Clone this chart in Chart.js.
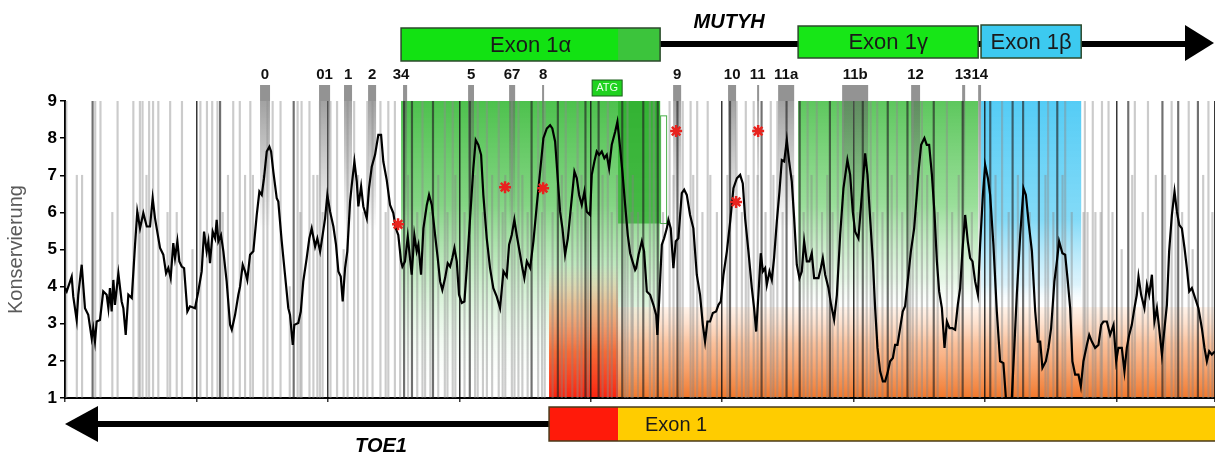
<!DOCTYPE html>
<html>
<head>
<meta charset="utf-8">
<script src="https://cdn.jsdelivr.net/npm/chart.js@4.4.1/dist/chart.umd.min.js"></script>
<style>
  html, body { margin: 0; padding: 0; background: #fff; }
  canvas { display: block; }
</style>
</head>
<body>
<canvas id="chart" width="1215" height="455"></canvas>
<script>
// smoothed conservation score: [position (bp), value]
const smoothed = [
  [0,3.96],[1.3,3.87],[5.1,4.27],[6.3,3.73],[8.9,3.1],[10.1,3.78],[12.7,4.59],[15.2,3.42],[17.7,3.24],[20.3,2.61],
  [21.5,2.88],[22.8,2.52],[24.1,3.06],[26.6,3.1],[29.1,3.87],[31.7,3.78],[33,3.42],[34.2,3.96],[35.5,3.33],[36.8,4.18],
  [38,3.51],[40.6,4.36],[43.1,3.6],[44.4,3.42],[46.2,2.7],[48.2,3.78],[50.8,3.69],[53.3,5.13],[55,6.02],[57.1,5.57],
  [59.6,5.98],[62.2,5.62],[64.7,5.62],[66.7,6.38],[68.5,5.84],[72.3,5.04],[74.8,4.86],[76.9,4.36],[78.6,4.5],[80.4,4.23],
  [82.4,5.17],[83.7,4.77],[85.5,5.22],[87,4.68],[88.8,4.54],[90.6,4.5],[93.1,3.33],[95.1,3.47],[98.9,3.42],[101.4,3.87],
  [104,4.41],[105.8,5.48],[107.8,4.95],[109.1,5.22],[110.3,4.63],[112.4,5.48],[114.2,5.3],[115.4,5.8],[116.7,5.22],[118.7,5.39],
  [120.5,4.95],[123,4.14],[125.6,2.97],[126.9,2.84],[129.4,3.24],[131.9,3.78],[133.2,4.0],[135.2,4.59],[137,4.41],[138.7,4.18],
  [140.8,4.86],[143.3,4.95],[145.9,5.93],[147.9,6.56],[149.7,6.47],[151.4,6.92],[153.5,7.64],[155.5,7.77],[156.8,7.64],[158.5,7.1],
  [161.1,6.38],[162.3,6.29],[164.9,5.22],[167.4,4.32],[169.9,3.42],[171.2,3.24],[173.3,2.43],[174.5,2.97],[177.5,3.02],[179.4,3.33],
  [181.3,4.14],[183.9,4.77],[185.9,5.3],[187.7,5.57],[190.3,5.08],[192,5.3],[194.1,4.95],[195.3,5.22],[197.9,5.84],[199.6,6.47],
  [201.7,6.02],[204.2,5.62],[206.2,5.13],[208,4.41],[209.8,4.27],[211.3,3.6],[213.1,4.5],[214.8,4.95],[216.9,6.29],[218.2,6.74],
  [220.2,7.37],[222,6.83],[223.2,6.16],[225.3,6.7],[227,6.16],[229.6,5.84],[231.3,6.65],[233.4,7.23],[235.9,7.55],[238.4,8.09],
  [240.5,8.09],[242.2,7.37],[244.8,6.87],[247.3,6.2],[249.8,5.98],[251.7,5.57],[253.6,5.39],[255.7,4.68],[256.7,4.54],[258.7,4.68],
  [260.8,5.35],[262.5,4.77],[263.8,4.32],[265.8,5.39],[267.6,4.95],[268.9,5.13],[270.9,4.32],[272.7,5.57],[275.3,6.2],[277,6.47],
  [279.1,6.2],[281.6,5.39],[283.6,4.77],[285.4,4.14],[287.1,3.91],[289.2,4.23],[291.2,4.63],[293,4.54],[294.7,4.77],[296.3,5.04],
  [298.1,4.68],[299.8,3.78],[301.9,3.56],[303.9,3.6],[305.7,4.5],[308.2,5.84],[310.7,7.19],[312.5,7.95],[314.5,7.82],[316.6,7.55],
  [318.3,6.47],[320.9,5.3],[323.4,4.5],[325.9,3.96],[328.5,3.73],[331,3.42],[333.6,4.41],[336.1,4.27],[337.9,5.13],[339.9,5.39],
  [341.9,5.8],[343.7,5.39],[346.3,4.86],[348,4.5],[349.5,4.23],[351.4,4.68],[353.9,4.5],[356.4,5.22],[359,6.2],[361.5,7.1],
  [364,8.0],[366.6,8.26],[369.1,8.35],[370.8,8.26],[372.9,7.91],[374.9,6.92],[376.7,6.02],[378.5,5.57],[380.5,4.86],[382.6,5.3],
  [385.1,6.2],[387.6,7.1],[389.4,6.92],[391.2,6.47],[393.2,6.2],[395.2,6.56],[397,6.02],[399.5,5.93],[400.8,7.01],[402.8,7.37],
  [404.6,7.64],[406.4,7.55],[408.4,7.64],[410.4,7.46],[412.2,7.55],[414,7.19],[416,7.82],[418.6,8.17],[420.3,8.44],[422.4,7.73],
  [424.1,7.1],[426.2,6.2],[428.2,5.39],[430,4.9],[431.8,4.68],[433.8,4.45],[434.6,4.5],[436.4,4.86],[438.9,5.22],[440.6,4.95],
  [442.7,3.87],[445.2,3.78],[447.7,3.51],[449.8,3.24],[450.7,2.7],[452.3,3.78],[454.1,5.13],[455.8,5.3],[457.9,5.57],[459.1,5.8],
  [460.9,5.57],[462.9,4.5],[464.7,5.22],[466.7,5.3],[469.3,6.52],[471.1,6.61],[473.1,6.47],[475.6,5.93],[478.1,5.57],[480.7,4.32],
  [483.2,3.78],[485.3,2.97],[487,2.52],[488.8,3.06],[490.8,3.06],[492.9,3.29],[495.4,3.33],[497.2,3.51],[499,3.6],[501,4.32],
  [503.6,4.95],[506.1,5.75],[508.6,6.65],[511.2,6.92],[513.7,7.01],[515.7,6.78],[517.5,5.84],[520,4.95],[522.6,3.96],[524.3,3.42],
  [525.9,2.79],[527.6,3.78],[529.4,4.9],[531,4.41],[532.7,4.5],[534,4.05],[536,4.41],[537.8,4.18],[539.5,4.77],[541.6,5.75],
  [543.6,6.56],[545.4,7.41],[547.2,7.37],[549.2,7.95],[551,7.37],[553,6.83],[554.8,5.84],[556.8,4.59],[558.8,4.23],[560.6,4.41],
  [562.4,5.22],[564.4,4.68],[566.4,4.68],[568.2,4.9],[570,4.23],[573.3,4.23],[575.1,4.5],[576.6,4.77],[578.4,4.32],[580.9,3.96],
  [582.9,3.51],[585.2,3.11],[587.3,3.78],[589.8,5.39],[592.3,6.65],[595.3,7.41],[597.4,7.01],[599.4,6.02],[601.2,5.48],[603.7,5.3],
  [606.3,6.47],[608.8,7.59],[610.6,7.01],[612.6,5.84],[614.7,4.68],[616.4,3.42],[618.2,2.35],[620.2,1.72],[622.3,1.45],[624,1.45],
  [625.8,1.67],[627.8,1.99],[629.9,2.08],[631.6,2.43],[633.4,2.43],[635.4,2.88],[637.4,3.33],[639.2,3.47],[641.2,4.14],[643.6,4.95],
  [646.1,5.57],[648.1,6.47],[649.4,7.1],[651.4,7.82],[653.9,8.0],[655.7,7.82],[657.5,7.82],[659.6,7.01],[661.5,6.02],[663.4,4.68],
  [665.1,3.87],[667.2,3.42],[669.2,2.35],[671,3.06],[673,2.88],[675.2,2.88],[677.3,2.84],[679.3,3.51],[681.1,3.96],[682.8,4.95],
  [684.9,5.93],[686.9,5.22],[688.7,4.77],[690.5,4.68],[692.5,4.14],[694.6,3.78],[696.3,5.13],[698.4,6.47],[700.1,7.28],[702.2,6.92],
  [703.9,6.47],[706.4,5.13],[709,3.33],[711.5,1.99],[714,1.94],[715.9,1.0],[720.4,1.0],[722.4,2.43],[724.2,3.78],[726.8,5.39],
  [729.3,6.65],[731.1,6.47],[733.1,5.75],[735.7,4.95],[738.2,3.33],[740.2,2.52],[742,2.52],[743.7,1.81],[746.3,1.99],[748.3,2.35],
  [750.3,2.88],[752.8,4.14],[754.7,4.68],[756.4,5.22],[758.9,4.9],[761,4.86],[763,4.14],[764.8,3.42],[766.5,1.99],[768.6,1.63],
  [771.1,1.63],[772.9,1.31],[774.9,1.99],[777.5,2.43],[779.3,2.7],[781.3,2.52],[783.8,2.35],[786.3,2.43],[788.4,2.97],[790.1,3.06],
  [792.7,3.06],[795.2,2.7],[797.8,2.97],[799.8,1.99],[801.5,2.35],[804.1,2.35],[806.1,1.72],[807.9,2.35],[809.7,2.7],[811.7,2.97],
  [813.7,3.42],[815.5,3.78],[816.8,4.27],[818.8,3.78],[821.3,3.42],[823.2,4.05],[824.9,3.78],[827,4.32],[828.9,3.06],[830.8,3.42],
  [832.5,2.88],[834.6,2.17],[836.6,2.88],[838.4,3.51],[840.1,4.95],[842.2,5.93],[844.2,6.56],[846,6.02],[847.8,5.66],[849.8,5.57],
  [851.8,5.04],[853.6,4.5],[855.4,3.87],[857.4,3.96],[859.9,3.69],[862.4,3.42],[865,2.88],[867,2.35],[868.8,1.99],[870.6,2.26],
  [872.6,2.17],[875,2.26]
];

// raw per-base scores that reach the top of the scale (9)
const rawTopStrong = [21,118,174,258,264,280,308,355,375,396,406,424,440,451,466,506,530,549,559,582,607,626,641,661,683,704,721,729,741,755,809,835,847,862];
const rawTopWeak = [1,23,27,40,52,57,59,64,67,71,80,89,103,108,112,116,128,133,141,154,158,164,177,180,186,194,202,207,215,220,230,234,240,246,251,272,289,295,314,321,330,340,345,360,365,381,390,413,428,445,448,460,470,476,481,489,511,518,524,537,542,565,572,588,592,613,618,633,645,652,671,696,713,748,761,776,782,789,794,814,824,842,855,870];

// raw per-base scores below the top
const rawPos = [9,13,36,56,62,78,85,97,120,124,137,143,151,171,179,189,192,196,212,223,227,244,255,261,268,274,278,284,291,297,304,312,318,325,333,335,342,348,352,363,371,378,386,393,398,409,416,420,426,431,432,436,455,463,468,478,485,491,496,504,515,520,527,533,539,546,554,562,568,576,580,584,596,603,610,615,622,629,637,643,648,656,664,675,680,690,708,718,725,734,746,752,759,766,775,778,784,788,797,804,812,820,830,837,845,850,858,866,873];
const rawVal = [7,7,6,6,7,6,6,5,6,7,7,7,7,4,6,7,7,6,5,7,6,6,5,7,6,6,6,7,6,7,6,7,6,7,6,7,6,7,6,6,6,7,6,7,6,7,6,7,6,6,7,6,6,7,6,7,6,7,6,7,6,7,7,6,7,6,7,6,7,6,7,6,7,6,7,6,6,7,6,7,6,7,6,6,7,6,7,6,7,6,7,6,7,6,6,6,6,6,6,5,7,6,7,7,6,6,5,7,6];

// conserved sites (asterisks)
const starPos = [253.4, 334.8, 363.8, 465, 510.6, 527.4];
const starVal = [5.68, 6.68, 6.65, 8.19, 6.28, 8.19];

// numbered elements above the plot
const siteLabels = ['0','01','1','2','34','5','67','8','9','10','11','11a','11b','12','13','14'];
const siteStart = [148.4,193.3,212.3,230.6,257.2,306.7,337.9,363,462.7,504.5,526.6,542.6,591.3,643.8,682.6,694.8];
const siteEnd   = [156,201.7,218.4,236.7,260.3,311.2,342.5,364.5,468.8,510.6,527.4,554.8,611.1,650.6,684.9,697];
const siteLabelPos = [152.2,197.5,215.4,233.7,255.7,309,340.2,363.8,465.8,507.6,527,548.7,601.2,647.2,683.3,696];

// MUTYH exons (bp)
const mutyhExons = ['Exon 1\u03b1', 'Exon 1\u03b3', 'Exon 1\u03b2'];
const mutyhStart = [255.7, 557.8, 697];
const mutyhEnd = [452.8, 694.8, 773.2];
const mutyhAtgStart = 420.8;
const atgPos = 412.5;

// TOE1 exon 1 (bp)
const toe1Start = 368.3;
const toe1Cds = 420.8;
const toe1End = 875;

Chart.defaults.font.family = '"Liberation Sans", Arial, sans-serif';

function grad(ctx, x0, x1, yTop, yBot, stops) {
  const g = ctx.createLinearGradient(0, yTop, 0, yBot);
  stops.forEach(s => g.addColorStop(s[0], s[1]));
  ctx.fillStyle = g;
  ctx.fillRect(x0, yTop, x1 - x0, yBot - yTop);
}

const regionsPlugin = {
  id: 'regions',
  beforeDraw(chart) {
    const {ctx, scales: {x, y}} = chart;
    const px = v => x.getPixelForValue(v);
    const py = v => y.getPixelForValue(v);
    ctx.save();
    // exon 1 alpha
    grad(ctx, px(mutyhStart[0]), px(mutyhEnd[0]), py(9), py(1),
      [[0,'rgba(62,188,62,0.92)'],[0.35,'rgba(108,205,108,0.84)'],[0.65,'rgba(190,234,190,0.62)'],[1,'rgba(255,255,255,0)']]);
    ctx.fillStyle = 'rgba(40,172,40,0.7)';
    ctx.fillRect(px(mutyhAtgStart), py(9), px(mutyhEnd[0]) - px(mutyhAtgStart), py(5.7) - py(9));
    ctx.strokeStyle = 'rgba(40,160,40,0.85)';
    ctx.lineWidth = 1;
    ctx.strokeRect(px(mutyhEnd[0]) + 0.5, py(8.6), 6, py(5.7) - py(8.6));
    // exon 1 gamma
    grad(ctx, px(mutyhStart[1]), px(mutyhEnd[1]), py(9), py(1),
      [[0,'rgba(76,193,76,0.9)'],[0.35,'rgba(125,213,125,0.78)'],[0.6,'rgba(205,238,205,0.5)'],[0.72,'rgba(255,255,255,0)']]);
    // exon 1 beta
    grad(ctx, px(mutyhStart[2]), px(mutyhEnd[2]), py(9), py(1),
      [[0,'rgba(70,200,245,0.92)'],[0.4,'rgba(110,212,246,0.85)'],[0.62,'rgba(200,236,250,0.6)'],[0.7,'rgba(255,255,255,0)']]);
    // TOE1 exon 1
    grad(ctx, px(toe1Cds), px(toe1End), py(3.45), py(1),
      [[0,'rgba(255,228,208,0.45)'],[0.4,'rgba(250,172,122,0.75)'],[1,'rgba(240,112,32,0.95)']]);
    grad(ctx, px(toe1Start), px(toe1Cds), py(4.6), py(1),
      [[0,'rgba(235,190,140,0)'],[0.3,'rgba(235,165,110,0.7)'],[0.65,'rgba(245,100,45,0.95)'],[1,'rgba(250,35,15,1)']]);
    ctx.restore();
  },
  beforeDatasetsDraw(chart) {
    const {ctx, chartArea, scales: {x, y}} = chart;
    ctx.save();
    siteLabels.forEach((l, i) => {
      const x0 = x.getPixelForValue(siteStart[i]);
      const w = Math.max(2, x.getPixelForValue(siteEnd[i]) - x0);
      grad(ctx, x0, x0 + w, chartArea.top, y.getPixelForValue(5.5),
        [[0,'rgba(100,100,100,0.6)'],[1,'rgba(100,100,100,0)']]);
    });
    ctx.restore();
  },
  afterDraw(chart) {
    const {ctx, chartArea, scales: {x}} = chart;
    const px = v => x.getPixelForValue(v);
    const top = chartArea.top;
    ctx.save();

    // site bars and numbers
    siteLabels.forEach((l, i) => {
      const x0 = px(siteStart[i]);
      const w = Math.max(2, px(siteEnd[i]) - x0);
      ctx.fillStyle = 'rgba(135,135,135,0.9)';
      ctx.fillRect(x0, top - 16, w, 16);
    });
    ctx.fillStyle = '#111';
    ctx.font = 'bold 15px "Liberation Sans", Arial, sans-serif';
    ctx.textAlign = 'center';
    ctx.textBaseline = 'middle';
    siteLabels.forEach((l, i) => ctx.fillText(l, px(siteLabelPos[i]), top - 26));

    // ATG box
    ctx.fillStyle = '#1fd21f';
    ctx.fillRect(px(atgPos) - 15, top - 21, 30, 16);
    ctx.strokeStyle = '#1d5e1d';
    ctx.lineWidth = 1;
    ctx.strokeRect(px(atgPos) - 15, top - 21, 30, 16);
    ctx.fillStyle = '#eaffea';
    ctx.font = '11px "Liberation Sans", Arial, sans-serif';
    ctx.fillText('ATG', px(atgPos), top - 13);

    // MUTYH arrow
    const right = px(toe1End);
    ctx.strokeStyle = '#000';
    ctx.lineWidth = 6;
    ctx.beginPath();
    ctx.moveTo(px(mutyhEnd[0]), 44);
    ctx.lineTo(right - 25, 44);
    ctx.stroke();
    ctx.fillStyle = '#000';
    ctx.beginPath();
    ctx.moveTo(right - 30, 25);
    ctx.lineTo(right - 1, 43);
    ctx.lineTo(right - 30, 61);
    ctx.closePath();
    ctx.fill();

    const boxTop = [28, 26, 25], boxBot = [61, 58, 58];
    const boxFill = ['#12e212', '#17e617', '#3ccaf0'];
    ctx.lineWidth = 1.5;
    mutyhExons.forEach((name, i) => {
      const x0 = px(mutyhStart[i]), x1 = px(mutyhEnd[i]);
      ctx.fillStyle = boxFill[i];
      ctx.fillRect(x0, boxTop[i], x1 - x0, boxBot[i] - boxTop[i]);
      if (i === 0) {
        ctx.fillStyle = '#3cc43c';
        ctx.fillRect(px(mutyhAtgStart), boxTop[i], x1 - px(mutyhAtgStart), boxBot[i] - boxTop[i]);
      }
      ctx.strokeStyle = '#2c4a2c';
      ctx.strokeRect(x0, boxTop[i], x1 - x0, boxBot[i] - boxTop[i]);
      ctx.fillStyle = '#1a1a1a';
      ctx.font = '22px "Liberation Sans", Arial, sans-serif';
      ctx.fillText(name, (x0 + x1) / 2, (boxTop[i] + boxBot[i]) / 2 + 1);
    });
    ctx.font = 'italic bold 20px "Liberation Sans", Arial, sans-serif';
    ctx.fillStyle = '#000';
    ctx.fillText('MUTYH', (px(mutyhEnd[0]) + px(mutyhStart[1])) / 2, 22);

    // TOE1 arrow (minus strand)
    const left = px(0);
    ctx.strokeStyle = '#000';
    ctx.lineWidth = 6;
    ctx.beginPath();
    ctx.moveTo(left + 28, 424);
    ctx.lineTo(px(toe1Start), 424);
    ctx.stroke();
    ctx.beginPath();
    ctx.moveTo(left, 424);
    ctx.lineTo(left + 33, 406);
    ctx.lineTo(left + 33, 442);
    ctx.closePath();
    ctx.fill();

    ctx.lineWidth = 1.5;
    ctx.strokeStyle = '#4a3a1a';
    ctx.fillStyle = '#ff1a0a';
    ctx.fillRect(px(toe1Start), 407, px(toe1Cds) - px(toe1Start), 34);
    ctx.fillStyle = '#ffcc00';
    ctx.fillRect(px(toe1Cds), 407, right - px(toe1Cds), 34);
    ctx.strokeRect(px(toe1Start), 407, right - px(toe1Start) + 2, 34);
    ctx.fillStyle = '#1a1a1a';
    ctx.font = '20px "Liberation Sans", Arial, sans-serif';
    ctx.fillText('Exon 1', px(toe1Cds) + 58, 425);
    ctx.font = 'italic bold 20px "Liberation Sans", Arial, sans-serif';
    ctx.fillStyle = '#000';
    ctx.fillText('TOE1', 381, 446);

    ctx.restore();
  }
};

const ctx = document.getElementById('chart').getContext('2d');
new Chart(ctx, {
  type: 'line',
  data: {
    datasets: [
      {
        type: 'scatter',
        label: 'konserviert',
        data: starPos.map((p, i) => ({x: p, y: starVal[i]})),
        pointStyle: 'star',
        pointRadius: 6,
        borderColor: '#e8231e',
        borderWidth: 2.5,
        order: 0
      },
      {
        type: 'line',
        label: 'Konservierung (gegl\u00e4ttet)',
        data: smoothed.map(d => ({x: d[0], y: d[1]})),
        borderColor: '#000',
        borderWidth: 2.2,
        pointRadius: 0,
        tension: 0,
        order: 1
      },
      {
        type: 'bar',
        label: 'roh',
        data: rawTopStrong.map(p => ({x: p, y: [1, 9]})),
        backgroundColor: 'rgba(35,35,35,0.65)',
        barThickness: 1.5,
        grouped: false,
        order: 2
      },
      {
        type: 'bar',
        label: 'roh',
        data: rawTopWeak.map(p => ({x: p, y: [1, 9]})),
        backgroundColor: 'rgba(140,140,140,0.45)',
        barThickness: 1.5,
        grouped: false,
        order: 3
      },
      {
        type: 'bar',
        label: 'roh',
        data: rawPos.map((p, i) => ({x: p, y: [1, rawVal[i]]})),
        backgroundColor: 'rgba(130,130,130,0.42)',
        barThickness: 1.5,
        grouped: false,
        order: 4
      }
    ]
  },
  options: {
    responsive: false,
    devicePixelRatio: 1,
    animation: false,
    layout: { autoPadding: false, padding: { top: 101, right: 0, bottom: 51, left: 0 } },
    plugins: { legend: { display: false }, tooltip: { enabled: false } },
    scales: {
      x: {
        type: 'linear',
        min: 0,
        max: 875,
        offset: false,
        ticks: { display: false, stepSize: 100 },
        grid: { offset: false, color: 'rgba(20,20,20,0.85)', lineWidth: 1.5, drawTicks: true, tickLength: 4 },
        border: { display: true, color: '#000', width: 2 },
        afterFit: s => { s.height = 6; }
      },
      y: {
        min: 1,
        max: 9,
        ticks: { stepSize: 1, color: '#000', padding: 3, font: { weight: 'bold', size: 17 } },
        grid: { drawOnChartArea: false, drawTicks: true, tickLength: 5, color: '#000', lineWidth: 1.5 },
        border: { display: true, color: '#000', width: 2 },
        title: { display: true, text: 'Konservierung', color: '#5a5a5a', font: { size: 20 }, padding: { top: 4, bottom: 0 } },
        afterFit: s => { s.width = 65; }
      }
    }
  },
  plugins: [regionsPlugin]
});
</script>
</body>
</html>
